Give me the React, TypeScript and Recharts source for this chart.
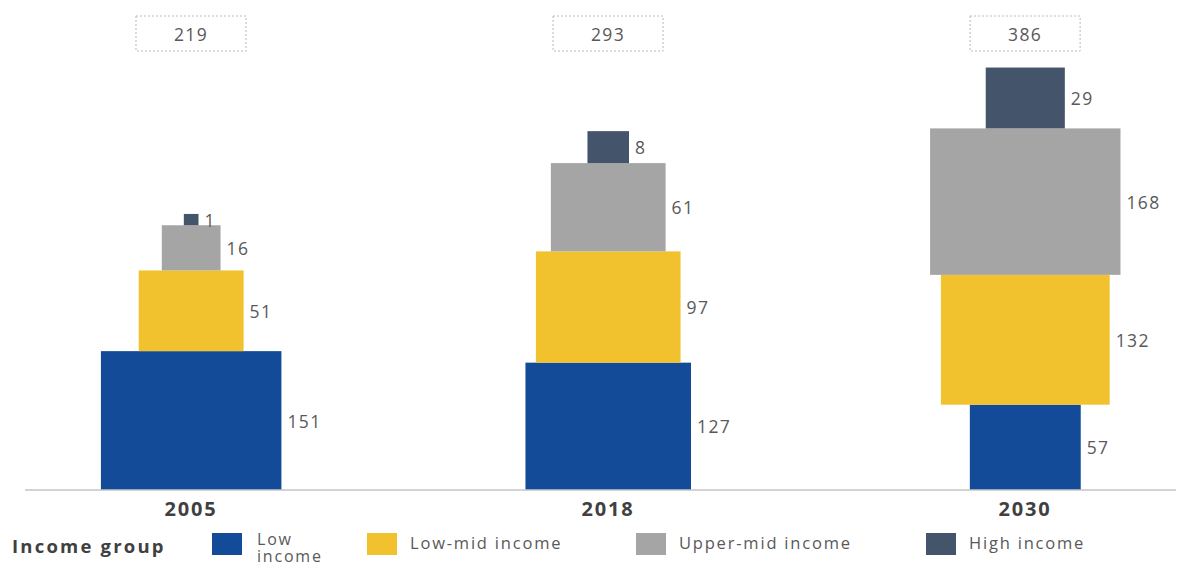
import React from 'react';
import { ComposedChart, Bar, XAxis, YAxis, Legend } from 'recharts';

// ---- data ----
const years = ['2005', '2018', '2030'];
const lowIncome = [151, 127, 57];
const lowMidIncome = [51, 97, 132];
const upperMidIncome = [16, 61, 168];
const highIncome = [1, 8, 29];
const totals = [219, 293, 386];

const series = [
  { key: 'low', name: 'Low income', color: '#134B98', values: lowIncome },
  { key: 'lowMid', name: 'Low-mid income', color: '#F2C12E', values: lowMidIncome },
  { key: 'upperMid', name: 'Upper-mid income', color: '#A5A5A5', values: upperMidIncome },
  { key: 'high', name: 'High income', color: '#44546A', values: highIncome },
];

// each block's area is proportional to its value: stacked height = sqrt(value)
const data = years.map((year, i) => {
  const row: Record<string, number | string> = { idx: i, year, total: totals[i] };
  series.forEach((s) => {
    row[s.key] = s.values[i];
    row[s.key + 'Side'] = Math.sqrt(s.values[i]);
  });
  return row;
});

const FONT = '"Open Sans", sans-serif';
const ASPECT = 1.3;

const makeShape = (key: string, color: string) => (props: any) => {
  const { x, y, width, height, payload } = props;
  const h = Math.abs(height);
  const top = height < 0 ? y + height : y;
  const cx = x + width / 2;
  const w = h * ASPECT;
  return (
    <g>
      <rect x={cx - w / 2} y={top} width={w} height={h} fill={color} />
      <text
        x={cx + w / 2 + 6}
        y={top + h / 2}
        dominantBaseline="central"
        fontFamily={FONT}
        fontSize={17.5}
        letterSpacing={1.4}
        fill="#595959"
      >
        {payload[key]}
      </text>
    </g>
  );
};

const YearTick = (props: any) => {
  const { x, y, payload } = props;
  return (
    <text
      x={x}
      y={y + 18}
      textAnchor="middle"
      dominantBaseline="central"
      fontFamily={FONT}
      fontWeight={700}
      fontSize={20}
      letterSpacing={1.8}
      fill="#404040"
    >
      {years[payload.value]}
    </text>
  );
};

const TotalTick = (props: any) => {
  const { x, y, payload } = props;
  return (
    <g>
      <rect
        x={x - 55}
        y={y - 22}
        width={110}
        height={35}
        fill="#ffffff"
        stroke="#b8b8b8"
        strokeWidth={1}
        strokeDasharray="2 2"
      />
      <text
        x={x}
        y={y - 4.5}
        textAnchor="middle"
        dominantBaseline="central"
        fontFamily={FONT}
        fontSize={17.5}
        letterSpacing={1.4}
        fill="#595959"
      >
        {totals[payload.value]}
      </text>
    </g>
  );
};

const legendPos: Record<string, { sq: number; tx: number }> = {
  low: { sq: 204, tx: 249 },
  lowMid: { sq: 359, tx: 402 },
  upperMid: { sq: 628, tx: 671 },
  high: { sq: 918, tx: 961 },
};

const LegendContent = () => (
  <div style={{ position: 'relative', width: 1176, height: 40, fontFamily: FONT }}>
    <div
      style={{
        position: 'absolute',
        left: 4,
        top: 6,
        lineHeight: '24px',
        fontSize: 18.5,
        fontWeight: 700,
        letterSpacing: 2.2,
        color: '#404040',
        whiteSpace: 'nowrap',
      }}
    >
      Income group
    </div>
    {series.map((s) => {
      const isLow = s.key === 'low';
      return (
        <React.Fragment key={s.key}>
          <div
            style={{
              position: 'absolute',
              left: legendPos[s.key].sq,
              top: 5,
              width: 30,
              height: 22,
              background: s.color,
            }}
          />
          <div
            style={{
              position: 'absolute',
              left: legendPos[s.key].tx,
              top: isLow ? 3 : 6,
              lineHeight: isLow ? '17px' : '18px',
              fontSize: isLow ? 16 : 16.5,
              letterSpacing: 1.8,
              color: '#595959',
              width: isLow ? 78 : 'auto',
              whiteSpace: isLow ? 'normal' : 'nowrap',
            }}
          >
            {s.name}
          </div>
        </React.Fragment>
      );
    })}
  </div>
);

export default function App() {
  return (
    <ComposedChart
      width={1176}
      height={560}
      data={data}
      margin={{ top: 0, right: 0, bottom: 48, left: 17 }}
    >
      <XAxis
        xAxisId={0}
        dataKey="idx"
        type="number"
        domain={[-0.398, 2.381]}
        ticks={[0, 1, 2]}
        interval={0}
        allowDataOverflow
        height={30}
        tickSize={0}
        tickMargin={0}
        tickLine={false}
        axisLine={{ stroke: '#c4c4c4', strokeWidth: 1.5 }}
        tick={<YearTick />}
      />
      <XAxis
        xAxisId="top"
        orientation="top"
        dataKey="idx"
        type="number"
        domain={[-0.398, 2.381]}
        ticks={[0, 1, 2]}
        interval={0}
        allowDataOverflow
        height={30}
        tickSize={0}
        tickMargin={0}
        tickLine={false}
        axisLine={false}
        tick={<TotalTick />}
      />
      <YAxis hide type="number" domain={[0, 40]} allowDataOverflow />
      {series.map((s) => (
        <Bar
          key={s.key}
          xAxisId={0}
          dataKey={s.key + 'Side'}
          name={s.name}
          stackId="income"
          fill={s.color}
          isAnimationActive={false}
          shape={makeShape(s.key, s.color)}
        />
      ))}
      <Legend
        layout="horizontal"
        verticalAlign="middle"
        align="center"
        content={<LegendContent />}
        wrapperStyle={{ top: 520, left: 0, width: 1176, height: 40 }}
      />
    </ComposedChart>
  );
}
